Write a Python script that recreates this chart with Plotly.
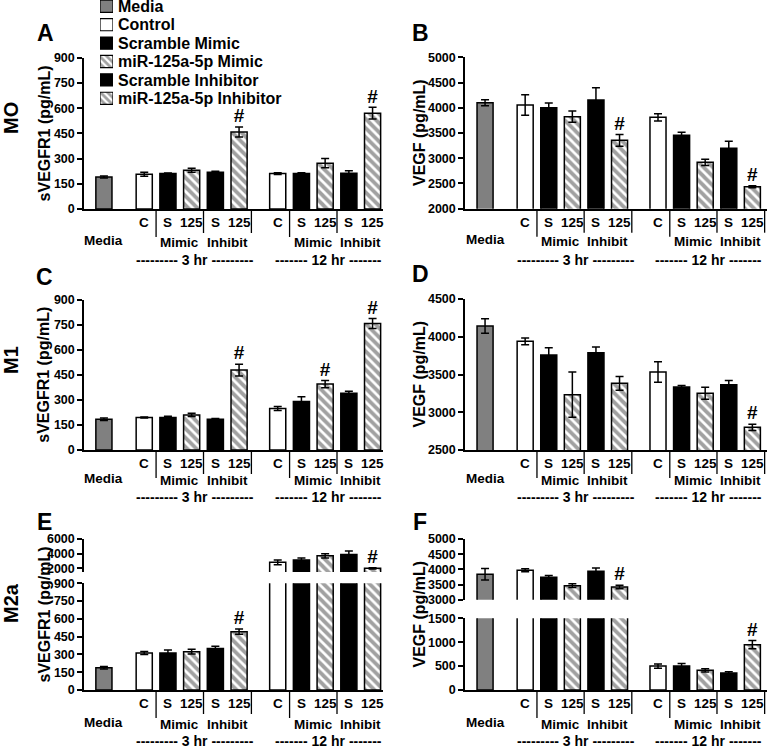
import plotly.graph_objects as go

W, H = 774, 747

# ---------------- data ----------------
legend_names = ["Media", "Control", "Scramble Mimic", "miR-125a-5p Mimic",
                "Scramble Inhibitor", "miR-125a-5p Inhibitor"]
bar_kinds = ["Media", "Control", "Scramble Mimic", "miR-125a-5p Mimic", "Scramble Inhibitor",
             "miR-125a-5p Inhibitor", "Control", "Scramble Mimic", "miR-125a-5p Mimic",
             "Scramble Inhibitor", "miR-125a-5p Inhibitor"]
bar_labels = ["", "C", "S", "125", "S", "125", "C", "S", "125", "S", "125"]
time_labels = ["--------- 3 hr ---------", "------- 12 hr -------"]
row_labels = ["MO", "M1", "M2a"]

A_vals = [191, 207, 211, 231, 219, 458, 211, 211, 273, 213, 570]
A_err = [6, 12, 4, 12, 5, 30, 5, 5, 28, 14, 35]
A_sig = [5, 10]

B_vals = [4100, 4055, 4002, 3824, 4154, 3354, 3810, 3453, 2918, 3196, 2436]
B_err = [60, 205, 90, 110, 245, 118, 72, 60, 60, 140, 20]
B_sig = [5, 10]

C_vals = [184, 194, 194, 210, 184, 478, 248, 290, 394, 340, 756]
C_err = [8, 3, 8, 10, 5, 35, 12, 28, 22, 12, 30]
C_sig = [5, 8, 10]

D_vals = [4142, 3939, 3758, 3233, 3789, 3383, 3533, 3334, 3251, 3365, 2800]
D_err = [95, 45, 95, 300, 75, 90, 135, 20, 80, 55, 42]
D_sig = [10]

E_vals = [188, 312, 312, 323, 351, 492, 2820, 3150, 3700, 3900, 2000]
E_err = [10, 12, 25, 20, 18, 22, 320, 260, 300, 480, 80]
E_sig = [5, 10]

F_vals = [3835, 3967, 3736, 3462, 3934, 3418, 500, 500, 411, 356, 948]
F_err = [190, 50, 60, 60, 110, 60, 45, 55, 35, 28, 85]
F_sig = [5, 10]

# ---------------- styles ----------------
FONT = "Liberation Sans, Arial, Helvetica, sans-serif"


def fnt(size):
    return dict(family=FONT, size=size, color="black", weight="bold")


kind_style = {
    "Media": ("#808080", ""),
    "Control": ("white", ""),
    "Scramble Mimic": ("black", ""),
    "miR-125a-5p Mimic": ("white", "\\"),
    "Scramble Inhibitor": ("black", ""),
    "miR-125a-5p Inhibitor": ("white", "\\"),
}

# x positions of bars (media, gap, 3 hr group, gap, 12 hr group)
xpos = [0.0] + [1.7 + i for i in range(5)] + [7.33 + i for i in range(5)]


def px_x(px):
    return px / W


def px_y(py):
    return 1 - py / H


def note(x, y, text, size, xref="paper", angle=0):
    return dict(x=x, y=y, xref=xref, yref="paper", text=text, showarrow=False,
                font=fnt(size), xanchor="center", yanchor="middle", textangle=angle)


cols = [(84, 383, [-0.84, 11.77]), (465, 767, [-0.85, 11.95])]

panels = [
    dict(letter="A", vals=A_vals, err=A_err, sig=A_sig, col=0, ytitle="sVEGFR1 (pg/mL)",
         segs=[(57.8, 209, [0, 900], list(range(0, 901, 150)))],
         letter_pos=(45, 33), rows=(13.5, 31, 51)),
    dict(letter="B", vals=B_vals, err=B_err, sig=B_sig, col=1, ytitle="VEGF (pg/mL)",
         segs=[(57.3, 208.7, [2000, 5000], list(range(2000, 5001, 500)))],
         letter_pos=(420.5, 33), rows=(13.5, 31, 51)),
    dict(letter="C", vals=C_vals, err=C_err, sig=C_sig, col=0, ytitle="sVEGFR1 (pg/mL)",
         segs=[(299.5, 450, [0, 900], list(range(0, 901, 150)))],
         letter_pos=(44, 277), rows=(13, 28, 47)),
    dict(letter="D", vals=D_vals, err=D_err, sig=D_sig, col=1, ytitle="VEGF (pg/mL)",
         segs=[(299, 450, [2500, 4500], list(range(2500, 4501, 500)))],
         letter_pos=(420.5, 274), rows=(13, 28, 47)),
    dict(letter="E", vals=E_vals, err=E_err, sig=E_sig, col=0, ytitle="sVEGFR1 (pg/mL)",
         segs=[(583.3, 690, [0, 900], list(range(0, 901, 150))),
               (539, 572, [1500, 6000], [2000, 4000, 6000])],
         letter_pos=(44, 522), rows=(13, 32, 51)),
    dict(letter="F", vals=F_vals, err=F_err, sig=F_sig, col=1, ytitle="VEGF (pg/mL)",
         segs=[(618.3, 690, [0, 1500], list(range(0, 1501, 500))),
               (539, 599.7, [3000, 5000], list(range(3000, 5001, 500)))],
         letter_pos=(420, 522), rows=(13, 32, 51)),
]

fig = go.Figure()
layout = {}
annotations = []
shapes = []
n = 0

for p in panels:
    colors = [kind_style[k][0] for k in bar_kinds]
    pats = [kind_style[k][1] for k in bar_kinds]
    x0, x1, xr = cols[p["col"]]
    lower_axis = None
    for si, (ytop, ybot, yr, tv) in enumerate(p["segs"]):
        n += 1
        s = "" if n == 1 else str(n)
        if si == 0:
            lower_axis = s
        layout["xaxis" + s] = dict(domain=[px_x(x0), px_x(x1)], range=xr, anchor="y" + s,
                                   showline=(si == 0), linecolor="black", linewidth=1.5,
                                   ticks="", showticklabels=False, showgrid=False,
                                   zeroline=False, fixedrange=True)
        layout["yaxis" + s] = dict(domain=[px_y(ybot), px_y(ytop)], range=yr, anchor="x" + s,
                                   showline=True, linecolor="black", linewidth=1.5,
                                   ticks="outside", ticklen=5, tickwidth=1.5, tickcolor="black",
                                   tickvals=tv, tickfont=fnt(12.5), showgrid=False,
                                   zeroline=False, automargin=False, fixedrange=True,
                                   ticklabeloverflow="allow")
        fig.add_trace(go.Bar(
            x=xpos, y=p["vals"], width=0.68, xaxis="x" + s, yaxis="y" + s,
            marker=dict(color=colors, line=dict(color="black", width=1.5),
                        pattern=dict(shape=pats, fgcolor="black", size=6.5, solidity=0.58)),
            error_y=dict(type="data", array=p["err"], visible=True, color="black",
                         thickness=1.5, width=4),
            showlegend=False, hoverinfo="skip"))
        # significance markers that fall in this segment
        sx, sy = [], []
        for i in p["sig"]:
            top = p["vals"][i] + p["err"][i]
            if yr[0] <= top <= yr[1]:
                sx.append(xpos[i])
                sy.append(top)
        if sx:
            fig.add_trace(go.Scatter(x=sx, y=sy, mode="text", text=["#"] * len(sx),
                                     textposition="top center", textfont=fnt(19),
                                     xaxis="x" + s, yaxis="y" + s, cliponaxis=False,
                                     showlegend=False, hoverinfo="skip"))

    # category labels below the lower axis
    ybot = p["segs"][0][1]
    r1, r2, r3 = p["rows"]
    xref = "x" + lower_axis
    for i in range(1, 11):
        annotations.append(note(xpos[i], px_y(ybot + r1), bar_labels[i], 13.5, xref))
    annotations.append(note(xpos[0], px_y(ybot + r2), "Media", 13.5, xref))
    for g in range(2):
        b = 1 + 5 * g
        annotations.append(note((xpos[b + 1] + xpos[b + 2]) / 2, px_y(ybot + r2 + 2),
                                "Mimic", 13.5, xref))
        annotations.append(note((xpos[b + 3] + xpos[b + 4]) / 2, px_y(ybot + r2 + 2),
                                "Inhibit", 13.5, xref))
        annotations.append(note((xpos[b] + xpos[b + 4]) / 2 + 0.15, px_y(ybot + r3),
                                time_labels[g], 14, xref))
        # separators
        seps = [((xpos[b] + xpos[b + 1]) / 2, 28),
                ((xpos[b + 2] + xpos[b + 3]) / 2, 24),
                (xpos[b + 4] + 0.52, 24)]
        for sxp, ln in seps:
            shapes.append(dict(type="line", xref=xref, yref="paper", x0=sxp, x1=sxp,
                               y0=px_y(ybot + 1), y1=px_y(ybot + ln),
                               line=dict(color="black", width=1.3)))

    # y-axis title
    ytop_all = min(sg[0] for sg in p["segs"])
    ycenter = (ytop_all + ybot) / 2
    tx = 44 if p["col"] == 0 else 419
    annotations.append(note(px_x(tx), px_y(ycenter), p["ytitle"], 16, angle=-90))
    # panel letter
    lx, ly = p["letter_pos"]
    annotations.append(note(px_x(lx), px_y(ly), p["letter"], 23))

# row labels
for lbl, yc in zip(row_labels, [118, 360, 603]):
    annotations.append(note(px_x(11), px_y(yc), lbl, 20, angle=-90))

# legend drawn as its own small subplot
n += 1
s = str(n)
fig.add_trace(go.Bar(
    x=[1] * len(legend_names), y=list(range(len(legend_names))), orientation="h", width=0.66,
    xaxis="x" + s, yaxis="y" + s,
    marker=dict(color=[kind_style[k][0] for k in legend_names],
                line=dict(color="black", width=1.2),
                pattern=dict(shape=[kind_style[k][1] for k in legend_names], fgcolor="black",
                             size=5, solidity=0.55)),
    showlegend=False, hoverinfo="skip"))
layout["xaxis" + s] = dict(domain=[px_x(100), px_x(113)], range=[0, 1], anchor="y" + s,
                           visible=False, fixedrange=True)
layout["yaxis" + s] = dict(domain=[px_y(108), 1], range=[5.527, -0.342], anchor="x" + s,
                           side="right", tickvals=list(range(len(legend_names))),
                           ticktext=legend_names, tickfont=fnt(16), ticks="",
                           showline=False, showgrid=False, zeroline=False,
                           ticklabelstandoff=4, automargin=False, fixedrange=True,
                           ticklabeloverflow="allow")

fig.update_layout(**layout)
fig.update_layout(width=W, height=H, margin=dict(l=0, r=0, t=0, b=0),
                  paper_bgcolor="white", plot_bgcolor="rgba(0,0,0,0)", showlegend=False,
                  barmode="overlay", annotations=annotations, shapes=shapes,
                  font=dict(family=FONT, color="black"))

fig.write_html("out.html", config={"displayModeBar": False},
               post_script="document.body.style.margin='0';")
